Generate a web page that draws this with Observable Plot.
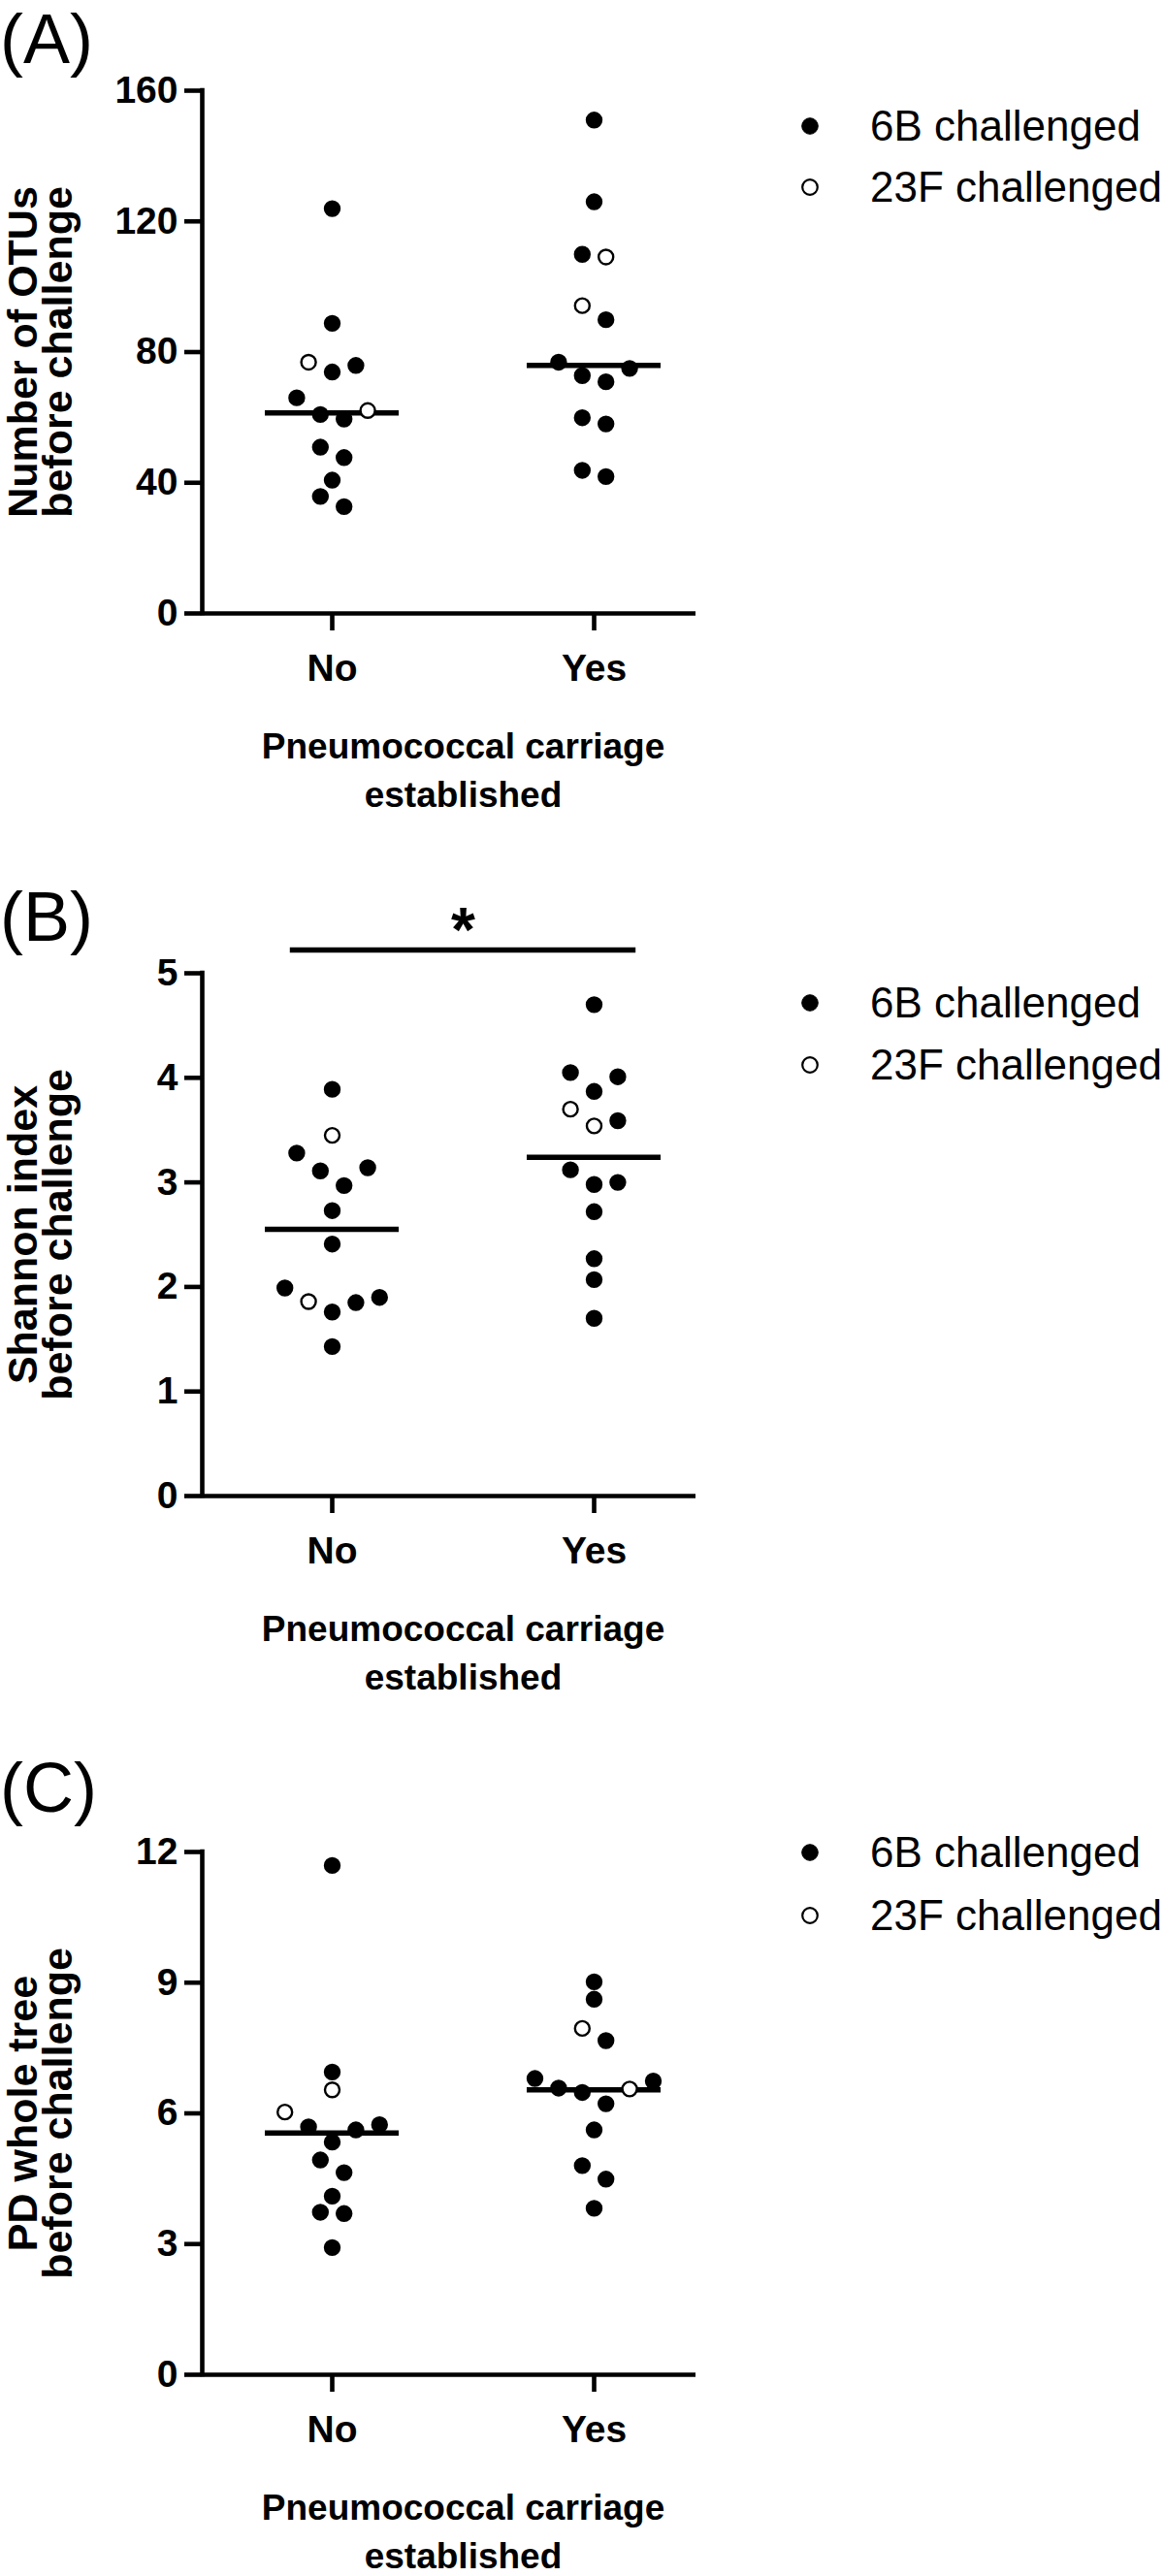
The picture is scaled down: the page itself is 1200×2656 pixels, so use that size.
<!DOCTYPE html>
<html>
<head>
<meta charset="utf-8">
<script src="https://cdn.jsdelivr.net/npm/d3@7"></script>
<script src="https://cdn.jsdelivr.net/npm/@observablehq/plot@0.6"></script>
<style>
  body { margin: 0; background: #fff; }
  #fig { position: relative; width: 1200px; height: 2656px; overflow: hidden; background: #fff;
         font-family: "Liberation Sans", Arial, sans-serif; color: #000; }
  .panel { position: absolute; left: 0; width: 1200px; }
  .plabel { position: absolute; font-size: 72px; line-height: 72px; font-weight: normal; white-space: nowrap; }
  .legtext { position: absolute; font-size: 44px; height: 60px; line-height: 60px; white-space: nowrap; }
  .legdot { position: absolute; width: 24px; height: 24px; }
</style>
</head>
<body>
<div id="fig"></div>
<script>
// ---------- text ----------
const categories = ["No", "Yes"];
const strainLabels = ["6B challenged", "23F challenged"];
const panelLabels = ["(A)", "(B)", "(C)"];
const yTitles = ["Number of OTUs\nbefore challenge", "Shannon index\nbefore challenge", "PD whole tree\nbefore challenge"];
const xTitle = "Pneumococcal carriage\nestablished";

// ---------- tick labels ----------
const yTicksA = [0, 40, 80, 120, 160];
const yTicksB = [0, 1, 2, 3, 4, 5];
const yTicksC = [0, 3, 6, 9, 12];

// ---------- (A) Number of OTUs before challenge ----------
const otusNo6B  = [123.9, 88.8, 73.9, 75.9, 66.0, 60.9, 59.5, 50.9, 47.7, 40.8, 35.8, 32.7];
const otusNo23F = [76.9, 62.1];
const otusYes6B  = [151.0, 126.0, 109.9, 89.9, 75.0, 76.9, 70.9, 72.8, 59.9, 58.0, 41.9, 43.8];
const otusYes23F = [109.1, 94.2];
const otusCentre = [61.4, 75.9];

// ---------- (B) Shannon index before challenge ----------
const shannonNo6B  = [3.89, 3.28, 3.14, 3.11, 2.97, 2.73, 2.41, 1.90, 1.85, 1.99, 1.76, 1.43];
const shannonNo23F = [3.45, 1.86];
const shannonYes6B  = [4.70, 4.01, 4.05, 3.87, 3.59, 3.12, 3.00, 2.98, 2.72, 2.27, 2.07, 1.70];
const shannonYes23F = [3.70, 3.54];
const shannonCentre = [2.55, 3.24];
const shannonSig = [{from: "No", to: "Yes", label: "*"}];

// ---------- (C) PD whole tree before challenge ----------
const pdNo6B  = [11.69, 6.95, 5.74, 5.62, 5.69, 5.34, 4.93, 4.64, 4.10, 3.73, 3.70, 2.92];
const pdNo23F = [6.54, 6.03];
const pdYes6B  = [9.02, 8.62, 7.67, 6.80, 6.74, 6.58, 6.48, 6.22, 5.62, 4.80, 4.49, 3.82];
const pdYes23F = [7.95, 6.56];
const pdCentre = [5.55, 6.54];

const panels = [
  {label: panelLabels[0], yTitle: yTitles[0], ticks: yTicksA,
   series: [[otusNo6B, otusNo23F], [otusYes6B, otusYes23F]], centre: otusCentre, sig: []},
  {label: panelLabels[1], yTitle: yTitles[1], ticks: yTicksB,
   series: [[shannonNo6B, shannonNo23F], [shannonYes6B, shannonYes23F]], centre: shannonCentre, sig: shannonSig},
  {label: panelLabels[2], yTitle: yTitles[2], ticks: yTicksC,
   series: [[pdNo6B, pdNo23F], [pdYes6B, pdYes23F]], centre: pdCentre, sig: []}
];

// ---------- layout (pixels) ----------
const LAYOUT = {
  tops: [0, 910, 1816], heights: [910, 906, 840],
  frameTop: 93, frameBottom: 632, frameLeft: 208, frameRight: 717,
  catPx: [342, 612], slotPx: 12.2, lineHalfPx: 69, swarmPx: 16.5,
  labelBaseline: [65, 60, 52],
  legendRows: [[130, 193], [124, 188], [94, 159]],
  legendDotX: 835, legendTextX: 897
};

// GraphPad-like scatter: points that touch vertically are spread in a row
function swarm(points, thr) {
  const sorted = points.slice().sort((a, b) => b.value - a.value);
  const rows = [];
  let cur = [];
  for (const p of sorted) {
    if (cur.length && cur[cur.length - 1].value - p.value > thr) { rows.push(cur); cur = []; }
    cur.push(p);
  }
  if (cur.length) rows.push(cur);
  for (const row of rows) {
    const n = row.length;
    row.forEach((p, i) => {
      const k = n - 1 - 2 * Math.floor(i / 2);
      p.slot = k === 0 ? 0 : (i % 2 === 0 ? -k : k);
    });
  }
}

const fig = document.getElementById("fig");
const FONT = "'Liberation Sans', Arial, Helvetica, sans-serif";

panels.forEach((p, k) => {
  const H = LAYOUT.heights[k];
  const top = LAYOUT.tops[k];
  const pxU = LAYOUT.catPx[1] - LAYOUT.catPx[0];
  const xmin = (LAYOUT.frameLeft - LAYOUT.catPx[0]) / pxU;
  const xmax = (LAYOUT.frameRight - LAYOUT.catPx[0]) / pxU;
  const ymax = p.ticks[p.ticks.length - 1];
  const vPerPx = ymax / (LAYOUT.frameBottom - LAYOUT.frameTop);
  const slotU = LAYOUT.slotPx / pxU;
  const half = LAYOUT.lineHalfPx / pxU;

  const pts = [];
  p.series.forEach((pair, gi) => {
    const grp = [];
    pair.forEach((vals, si) => vals.forEach(v => grp.push({gi, value: v, open: si === 1})));
    swarm(grp, LAYOUT.swarmPx * vPerPx);
    pts.push(...grp);
  });
  const centre = p.centre.map((v, gi) => ({gi, value: v}));
  const mid = (categories.length - 1) / 2;

  const marks = [
    Plot.ruleX([xmin], {y1: 0, y2: ymax, strokeWidth: 4.6, strokeLinecap: "square"}),
    Plot.ruleY([0], {x1: xmin, x2: xmax, strokeWidth: 4.6}),
    Plot.axisY({ticks: p.ticks, tickSize: 18, tickPadding: 7, strokeWidth: 4.6, fontSize: 39,
                label: null, tickFormat: d => String(d)}),
    Plot.axisX({ticks: categories.map((c, i) => i), tickSize: 18, tickPadding: 24, strokeWidth: 4.6,
                fontSize: 39, label: null, tickFormat: i => categories[i]}),
    Plot.ruleY(centre, {y: "value", x1: d => d.gi - half, x2: d => d.gi + half, strokeWidth: 5.5}),
    Plot.dot(pts, {x: d => d.gi + d.slot * slotU, y: "value", r: 7.5,
                   fill: d => d.open ? "white" : "black", stroke: "black", strokeWidth: 2.4}),
    Plot.text([p.yTitle], {frameAnchor: "left", dx: -164, rotate: -90, fontSize: 43,
                           lineHeight: 0.84, lineAnchor: "middle", textAnchor: "middle"}),
    Plot.text([xTitle], {x: mid, frameAnchor: "bottom", dy: 114, lineAnchor: "top",
                         lineHeight: 1.35, fontSize: 37, textAnchor: "middle"})
  ];
  if (p.sig.length) {
    marks.push(
      Plot.ruleY(p.sig, {y: () => ymax, dy: -24, strokeWidth: 5.5,
        x1: d => categories.indexOf(d.from) - 0.16, x2: d => categories.indexOf(d.to) + 0.16}),
      Plot.text(p.sig, {y: () => ymax, dy: -43, fontSize: 64, text: "label",
        x: d => (categories.indexOf(d.from) + categories.indexOf(d.to)) / 2})
    );
  }

  const chart = Plot.plot({
    width: 1200, height: H,
    marginLeft: LAYOUT.frameLeft, marginRight: 1200 - LAYOUT.frameRight,
    marginTop: LAYOUT.frameTop, marginBottom: H - LAYOUT.frameBottom,
    x: {type: "linear", domain: [xmin, xmax]},
    y: {type: "linear", domain: [0, ymax]},
    color: {type: "identity"},
    style: {fontFamily: FONT, fontWeight: "bold", background: "white", color: "black", overflow: "visible"},
    marks
  });

  const wrap = document.createElement("div");
  wrap.className = "panel";
  wrap.style.top = top + "px";
  wrap.style.height = H + "px";
  wrap.appendChild(chart);
  fig.appendChild(wrap);

  // panel label
  const lab = document.createElement("div");
  lab.className = "plabel";
  lab.textContent = p.label;
  lab.style.left = "0px";
  lab.style.top = (top + LAYOUT.labelBaseline[k] - 0.8465 * 72) + "px";
  fig.appendChild(lab);

  // legend
  strainLabels.forEach((s, si) => {
    const cy = top + LAYOUT.legendRows[k][si];
    const svgNS = "http://www.w3.org/2000/svg";
    const svg = document.createElementNS(svgNS, "svg");
    svg.setAttribute("class", "legdot");
    svg.setAttribute("width", 24); svg.setAttribute("height", 24);
    svg.style.left = (LAYOUT.legendDotX - 12) + "px";
    svg.style.top = (cy - 12) + "px";
    const c = document.createElementNS(svgNS, "circle");
    c.setAttribute("cx", 12); c.setAttribute("cy", 12);
    c.setAttribute("r", si === 0 ? 8.3 : 7.8);
    c.setAttribute("fill", si === 0 ? "black" : "white");
    c.setAttribute("stroke", "black");
    c.setAttribute("stroke-width", si === 0 ? 1 : 2.2);
    svg.appendChild(c);
    fig.appendChild(svg);
    const t = document.createElement("div");
    t.className = "legtext";
    t.textContent = s;
    t.style.left = LAYOUT.legendTextX + "px";
    t.style.top = (cy - 30) + "px";
    fig.appendChild(t);
  });
});
</script>
</body>
</html>
